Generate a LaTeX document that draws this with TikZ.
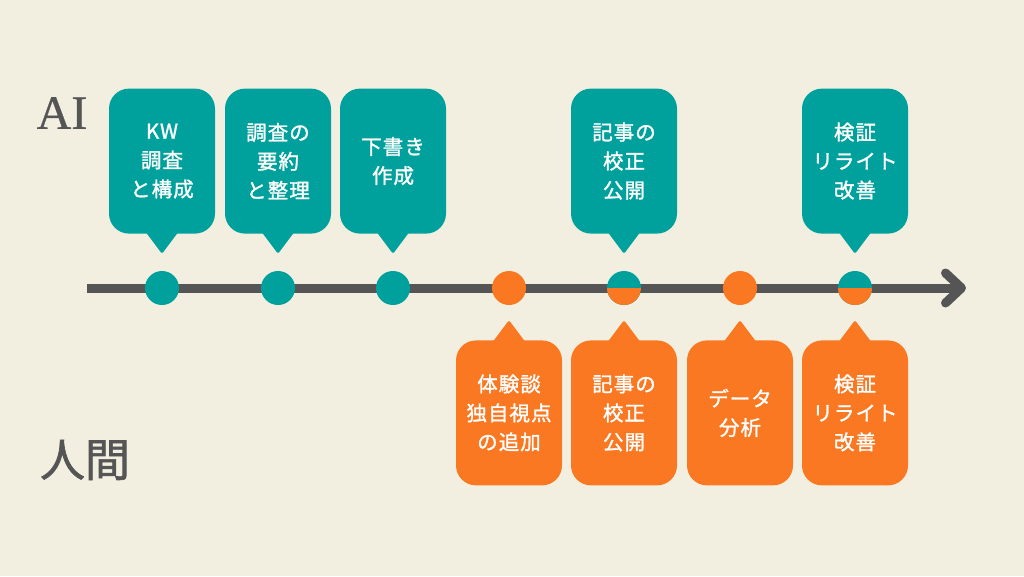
\documentclass[tikz,border=0pt]{standalone}
\usepackage{fontspec}
\setmainfont{Noto Sans CJK JP}
\newfontfamily\jpmed{Noto Sans CJK JP}[FakeBold=1.4,LetterSpace=5]
\newfontfamily\jphead{Noto Sans CJK JP}[FakeBold=1.4]
\newfontfamily\serifen{Liberation Serif}[FakeBold=0.6]
\usetikzlibrary{arrows.meta,positioning}
\definecolor{bgcream}{HTML}{F3EFE0}
\definecolor{aiteal}{HTML}{00A19D}
\definecolor{humanorange}{HTML}{FA7821}
\definecolor{axisgray}{HTML}{555555}

\begin{document}
\begin{tikzpicture}[x=1pt,y=-1pt,node distance=37pt,
    dot/.style={circle,minimum size=34pt,inner sep=0pt,fill=#1},
    half/.style={dot=aiteal,path picture={\fill[humanorange] (path picture bounding box.west) rectangle (path picture bounding box.south east);}},
    bubble/.style={rectangle,rounded corners=20pt,fill=#1,text=white,minimum width=106pt,minimum height=145pt,align=center,font=\jpmed\fontsize{20.5}{29}\selectfont}]
    \fill[bgcream] (0,0) rectangle (1024,576);
    \useasboundingbox (0,0) rectangle (1024,576);

    % time axis
    \coordinate (start) at (87,288);
    \coordinate (end) at (966,288);
    \draw[axisgray,line width=9pt,-{Straight Barb[length=16pt,width=30pt,line cap=round,line join=round]}] (start) -- (end);

    % steps on the axis
    \node [dot=aiteal]      (d1) at (162,288) {};
    \node [dot=aiteal]      (d2) at (278,288) {};
    \node [dot=aiteal]      (d3) at (393,288) {};
    \node [dot=humanorange] (d4) at (509,288) {};
    \node [half]            (d5) at (624,288) {};
    \node [dot=humanorange] (d6) at (740,288) {};
    \node [half]            (d7) at (855,288) {};

    % AI side
    \node [text=axisgray,font=\serifen\fontsize{48}{48}\selectfont] (ai) at (62,113) {AI};
    \node [bubble=aiteal] [above=of d1] (a1) {KW\\調査\\と構成};
    \node [bubble=aiteal] [above=of d2] (a2) {調査の\\要約\\と整理};
    \node [bubble=aiteal] [above=of d3] (a3) {下書き\\作成};
    \node [bubble=aiteal] [above=of d5] (a5) {記事の\\校正\\公開};
    \node [bubble=aiteal] [above=of d7] (a7) {検証\\リライト\\改善};

    % human side
    \node [text=axisgray,font=\jphead\fontsize{45}{45}\selectfont] (human) at (85,460) {人間};
    \node [bubble=humanorange] [below=35pt of d4] (h4) {体験談\\独自視点\\の追加};
    \node [bubble=humanorange] [below=35pt of d5] (h5) {記事の\\校正\\公開};
    \node [bubble=humanorange] [below=35pt of d6] (h6) {データ\\分析};
    \node [bubble=humanorange] [below=35pt of d7] (h7) {検証\\リライト\\改善};

    % pointers
    \foreach \b in {a1,a2,a3,a5,a7}
        \fill[aiteal,rounded corners=2pt] ([xshift=-18pt,yshift=4pt]\b.south) -- ([yshift=-20pt]\b.south) -- ([xshift=18pt,yshift=4pt]\b.south) -- cycle;
    \foreach \b in {h4,h5,h6,h7}
        \fill[humanorange,rounded corners=2pt] ([xshift=-18pt,yshift=-4pt]\b.north) -- ([yshift=20pt]\b.north) -- ([xshift=18pt,yshift=-4pt]\b.north) -- cycle;
\end{tikzpicture}
\end{document}
